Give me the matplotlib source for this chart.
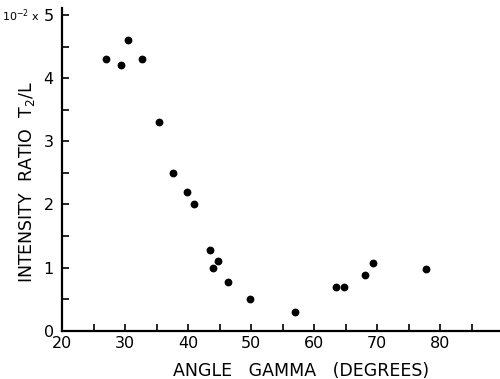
#!/usr/bin/env python3
# -*- coding: utf-8 -*-
"""Intensity ratio T2/L versus angle gamma (scatter)."""
import matplotlib

matplotlib.use("Agg")
import matplotlib.pyplot as plt
from matplotlib.ticker import MultipleLocator

# values (y in units of 10^-2)
angle_gamma = [27.0, 29.4, 30.5, 32.7, 35.4, 37.6, 39.8, 40.9, 43.5, 43.9,
               44.8, 46.4, 49.8, 56.9, 63.4, 64.7, 68.0, 69.4, 77.7]
intensity_ratio = [4.3, 4.2, 4.6, 4.3, 3.3, 2.5, 2.2, 2.0, 1.28, 1.0,
                   1.1, 0.78, 0.5, 0.3, 0.7, 0.7, 0.88, 1.08, 0.98]
x_ticks = [20, 30, 40, 50, 60, 70, 80]
y_ticks = [0, 1, 2, 3, 4, 5]

fig = plt.figure(figsize=(5.0, 3.79), dpi=100)
ax = fig.add_axes([0.124, 0.127, 0.876, 0.852])

ax.plot(angle_gamma, intensity_ratio, "o", color="black", markersize=4.6)

ax.set_xlim(20, 89.5)
ax.set_ylim(0, 5.11)
ax.set_xticks(x_ticks)
ax.set_yticks(y_ticks)
ax.xaxis.set_minor_locator(MultipleLocator(5))
ax.yaxis.set_minor_locator(MultipleLocator(0.5))
ax.tick_params(which="both", direction="in", width=1.2, length=5, labelsize=11.5)
ax.tick_params(axis="y", pad=6)
ax.tick_params(axis="x", pad=4)

for side in ("top", "right"):
    ax.spines[side].set_visible(False)
for side in ("left", "bottom"):
    ax.spines[side].set_linewidth(1.6)

ax.set_xlabel("ANGLE   GAMMA   (DEGREES)", fontsize=12.5)
ax.xaxis.set_label_coords(0.545, -0.095)
ax.set_ylabel("INTENSITY  RATIO  T$_2$/L", fontsize=12.5)
ax.yaxis.set_label_coords(-0.057, 0.46)

fig.text(0.08, 0.958, "10$^{-2}$ x", fontsize=8, ha="right", va="center")

fig.savefig("out.png", dpi=100)
